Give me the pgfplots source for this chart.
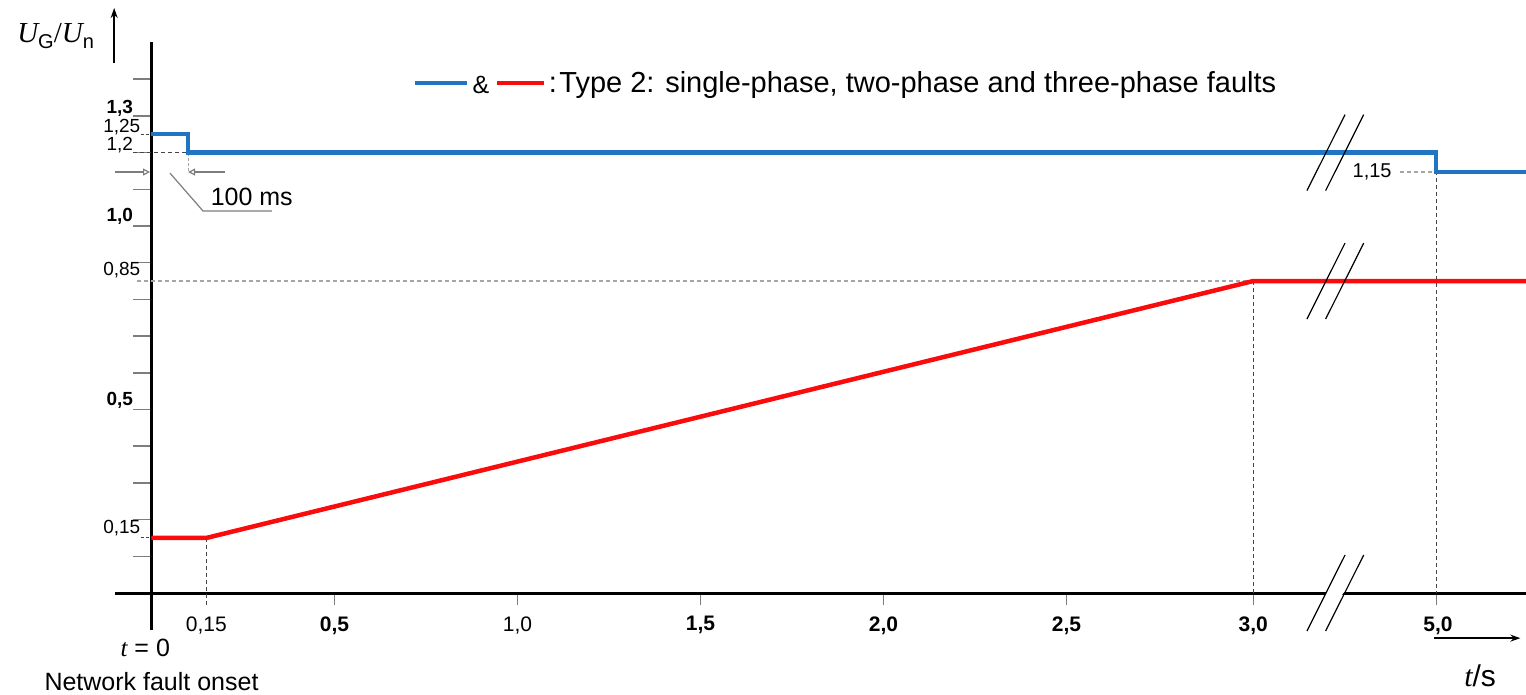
\documentclass[border=0pt]{standalone}
\usepackage{pgfplots}
\pgfplotsset{compat=1.18}
\usepackage{fontspec}
\setmainfont{Liberation Sans}
\newfontfamily\serif{Liberation Serif}
\usetikzlibrary{arrows.meta}
\definecolor{cblue}{RGB}{31,117,196}
\definecolor{cred}{RGB}{250,12,12}
\definecolor{tgray}{RGB}{125,125,125}
\definecolor{lgray}{RGB}{165,165,165}
\definecolor{dgray}{RGB}{70,70,70}
\newcommand{\fs}[1]{\fontsize{#1}{#1}\selectfont}
\begin{document}
\begin{tikzpicture}
\path[use as bounding box] (-114.9pt,-64.3pt) rectangle (1411.1pt,629.7pt);
\begin{axis}[
  x=366pt, y=367pt,
  xmin=-0.1, xmax=3.755, ymin=-0.1, ymax=1.5,
  axis lines=middle,
  axis line style={line width=3pt,-},
  enlargelimits=false,
  clip=false,
  xtick={0.5,1,1.5,2,2.5,3.01,3.51}, xticklabels={},
  ytick={0.1,0.2,0.3,0.4,0.5,0.6,0.7,0.8,0.9,1.0,1.1,1.2,1.3,1.4}, yticklabels={},
  tick align=outside,
  xtick style={tgray, line width=1.2pt, /pgfplots/major tick length=12pt},
  ytick style={tgray, line width=1.5pt, /pgfplots/major tick length=18pt},
]
% reference / dashed lines
\draw[lgray, line width=1.2pt, dash pattern=on 4pt off 3pt] (-0.04,0.85) -- (3.01,0.85);
\draw[dgray, line width=1pt, dash pattern=on 4pt off 3pt] (3.01,0.85) -- (3.01,0);
\draw[dgray, line width=1pt, dash pattern=on 4pt off 3pt] (3.51,1.15) -- (3.51,0);
\draw[dgray, line width=1pt, dash pattern=on 4pt off 3pt] (0.15,0.15) -- (0.15,-0.035);
\draw[lgray, line width=1.2pt, dash pattern=on 4pt off 3pt] (3.41,1.147) -- (3.51,1.147);
\draw[dgray, line width=1.2pt, dash pattern=on 4pt off 3pt] (-0.05,1.2) -- (0.1,1.2);
\draw[dgray, line width=1.2pt, dash pattern=on 3pt off 2pt] (-0.03,1.25) -- (0,1.25);
\draw[dgray, line width=1pt, dash pattern=on 3pt off 2pt] (-0.03,0.15) -- (0,0.15);
\draw[lgray, line width=1pt, dash pattern=on 3pt off 2pt] (0.1,1.2) -- (0.1,1.147);
% 100 ms dimension
\draw[tgray, line width=1.2pt, -{Triangle[open,length=7pt,width=7pt]}] (-0.1,1.147) -- (-0.004,1.147);
\draw[tgray, line width=1.2pt, -{Triangle[open,length=7pt,width=7pt]}] (0.2,1.147) -- (0.1,1.147);
\draw[tgray, line width=1.2pt] (0.0505,1.144) -- (0.1407,1.041) -- (0.329,1.041);
\node[font=\fs{25}] at (0.274,1.079) {100 ms};
% data
\addplot[cblue, line width=4.5pt, line join=miter] coordinates {
 (0,1.25) (0.1,1.25) (0.1,1.2) (3.51,1.2) (3.51,1.147) (3.755,1.147)};
\addplot[cred, line width=4.5pt, line join=round] coordinates {
 (0,0.15) (0.15,0.15) (3.01,0.85) (3.755,0.85)};
% breaks
\fill[white] (3.199,-0.014) -- (3.246,-0.014) -- (3.267,0.014) -- (3.219,0.014) -- cycle;
\draw[black, line width=1.2pt] (3.157,1.0965) -- (3.261,1.3035);
\draw[black, line width=1.2pt] (3.208,1.0965) -- (3.312,1.3035);
\draw[black, line width=1.2pt] (3.157,0.7465) -- (3.261,0.9535);
\draw[black, line width=1.2pt] (3.208,0.7465) -- (3.312,0.9535);
\draw[black, line width=1.2pt] (3.157,-0.1035) -- (3.261,0.1035);
\draw[black, line width=1.2pt] (3.208,-0.1035) -- (3.312,0.1035);
% y labels
\node[anchor=east, font=\fs{19}\bfseries, inner sep=0pt] at (-0.05,1.32) {1,3};
\node[anchor=east, font=\fs{19}, inner sep=0pt] at (-0.03,1.27) {1,25};
\node[anchor=east, font=\fs{19}, inner sep=0pt] at (-0.05,1.22) {1,2};
\node[anchor=east, font=\fs{19}\bfseries, inner sep=0pt] at (-0.05,1.025) {1,0};
\node[anchor=east, font=\fs{19}, inner sep=0pt] at (-0.03,0.88) {0,85};
\node[anchor=east, font=\fs{19}\bfseries, inner sep=0pt] at (-0.05,0.526) {0,5};
\node[anchor=east, font=\fs{19}, inner sep=0pt] at (-0.03,0.177) {0,15};
\node[font=\fs{20}] at (3.335,1.147) {1,15};
% x labels
\node[font=\fs{21}] at (0.15,-0.088) {0,15};
\node[font=\fs{21}\bfseries] at (0.5,-0.088) {0,5};
\node[font=\fs{21}] at (1,-0.088) {1,0};
\node[font=\fs{21}\bfseries] at (1.5,-0.088) {1,5};
\node[font=\fs{21}\bfseries] at (2,-0.088) {2,0};
\node[font=\fs{21}\bfseries] at (2.5,-0.088) {2,5};
\node[font=\fs{21}\bfseries] at (3.01,-0.088) {3,0};
\node[font=\fs{21}\bfseries] at (3.515,-0.088) {5,0};
% axis titles
\draw[black, line width=1.5pt, -{Stealth[length=10pt,width=7pt]}] (3.505,-0.123) -- (3.74,-0.123);
\node[font=\fs{30}] at (3.63,-0.225) {{\serif\itshape t}/s};
\draw[black, line width=1.5pt, -{Stealth[length=10pt,width=7pt]}] (-0.102,1.444) -- (-0.102,1.594);
\node[font=\fs{29}] at (-0.262,1.518) {{\serif\itshape U}\raisebox{-6pt}{\fs{20}G}{\serif /}{\serif\itshape U}\raisebox{-6pt}{\fs{20}n}};
\node[font=\fs{25}] at (-0.017,-0.15) {{\serif\itshape t} = 0};
\node[font=\fs{25}] at (0,-0.24) {Network fault onset};
% legend
\draw[cblue, line width=4pt] (0.72,1.39) -- (0.862,1.39);
\node[font=\fs{25}, inner sep=0pt] at (0.9,1.385) {\&};
\draw[cred, line width=4pt] (0.944,1.39) -- (1.072,1.39);
\node[font=\fs{29}, inner sep=0pt] at (1.097,1.385) {:};
\node[anchor=west, font=\fs{29}, inner sep=0pt] at (1.114,1.385) {Type 2: single-phase, two-phase and three-phase faults};
\end{axis}
\end{tikzpicture}
\end{document}
